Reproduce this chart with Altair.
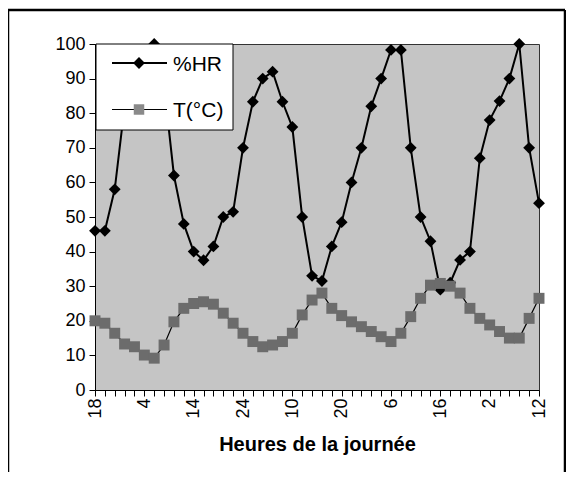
import altair as alt
import pandas as pd

# Hour of day for each 2-hour reading (category labels)
hours = [18, 20, 22, 24, 2, 4, 6, 8, 10, 12, 14, 16,
         18, 20, 22, 24, 2, 4, 6, 8, 10, 12, 14, 16,
         18, 20, 22, 24, 2, 4, 6, 8, 10, 12, 14, 16,
         18, 20, 22, 24, 2, 4, 6, 8, 10, 12]

# Relative humidity (%HR)
hr = [46, 46, 58, 82, 92, 98, 100, 88, 62, 48,
      40, 37.5, 41.5, 50, 51.5, 70, 83.3, 90, 92, 83.3,
      76, 50, 33, 31.5, 41.5, 48.5, 60, 70, 82, 90,
      98.3, 98.3, 70, 50, 43, 29, 31, 37.6, 40, 67,
      78, 83.5, 90, 100, 70, 54]

# Temperature T(°C)
temp = [20, 19.3, 16.4, 13.3, 12.5, 10.1, 9.2, 13, 19.7, 23.6,
        25, 25.5, 24.8, 22.2, 19.3, 16.4, 14, 12.5, 13, 14,
        16.4, 21.7, 26, 28, 23.6, 21.5, 19.7, 18.3, 16.9, 15.4,
        14, 16.4, 21.2, 26.5, 30.3, 30.8, 30, 28, 23.6, 20.7,
        18.8, 16.9, 15, 15, 20.7, 26.5]

series_names = ["%HR", "T(°C)"]
y_ticks = list(range(0, 101, 10))
x_title = "Heures de la journée"

FONT = "Liberation Sans"

df = pd.DataFrame({"i": list(range(len(hours))), "hour": hours, "hr": hr, "temp": temp})

hour_arr = "[" + ",".join(str(h) for h in hours) + "]"
label_expr = f"datum.value % 5 == 0 ? '' + {hour_arr}[datum.value] : ''"

x_axis = alt.Axis(
    values=list(range(len(hours))),
    labelExpr=label_expr,
    labelAngle=270,
    labelOverlap=False,
    labelFlush=False,
    labelBound=False,
    tickSize=6,
    labelPadding=2,
    title=x_title,
    titleFont=FONT,
    titleFontSize=20,
    titleFontWeight="bold",
    titlePadding=16,
    grid=False,
)
x_scale = alt.Scale(domain=[0, len(hours) - 1], nice=False, zero=False)
x_enc = alt.X("i:Q", scale=x_scale, axis=x_axis)

y_scale = alt.Scale(domain=[0, 100], nice=False, zero=True)
y_axis = alt.Axis(values=y_ticks, tickSize=6, labelPadding=4, title=None, grid=False,
                  labelOverlap=False, labelFlush=False, labelBound=False)

base = alt.Chart(df)

hr_line = base.mark_line(color="black", strokeWidth=2).encode(
    x=x_enc, y=alt.Y("hr:Q", scale=y_scale, axis=y_axis))
hr_pts = base.mark_point(shape="diamond", filled=True, size=140, color="black", opacity=1).encode(
    x=x_enc, y=alt.Y("hr:Q", scale=y_scale, axis=y_axis))
t_line = base.mark_line(color="black", strokeWidth=1.2).encode(
    x=x_enc, y=alt.Y("temp:Q", scale=y_scale, axis=y_axis))
t_pts = base.mark_point(shape="square", filled=True, size=120, color="#6c6c6c", opacity=1).encode(
    x=x_enc, y=alt.Y("temp:Q", scale=y_scale, axis=y_axis))

one = pd.DataFrame({"k": [0]})
leg = alt.Chart(one)
leg_box = leg.mark_rect(fill="white", stroke="black", strokeWidth=1).encode(
    x=alt.value(1), x2=alt.value(138), y=alt.value(0), y2=alt.value(86))
leg_l1 = leg.mark_rule(color="black", strokeWidth=2).encode(
    x=alt.value(17), x2=alt.value(72), y=alt.value(19))
leg_p1 = leg.mark_point(shape="diamond", filled=True, size=140, color="black", opacity=1).encode(
    x=alt.value(44), y=alt.value(19))
leg_t1 = leg.mark_text(align="left", baseline="alphabetic", font=FONT, fontSize=21, color="black").encode(
    x=alt.value(78), y=alt.value(27), text=alt.value(series_names[0]))
leg_l2 = leg.mark_rule(color="black", strokeWidth=1.2).encode(
    x=alt.value(17), x2=alt.value(72), y=alt.value(65.5))
leg_p2 = leg.mark_point(shape="square", filled=True, size=110, color="#8a8a8a", opacity=1).encode(
    x=alt.value(44), y=alt.value(65.5))
leg_t2 = leg.mark_text(align="left", baseline="alphabetic", font=FONT, fontSize=21, color="black").encode(
    x=alt.value(78), y=alt.value(73), text=alt.value(series_names[1]))

# outer frame of the figure
frame_l = leg.mark_rule(color="black", strokeWidth=2.5).encode(
    x=alt.value(-87), y=alt.value(-34), y2=alt.value(440))
frame_t = leg.mark_rule(color="black", strokeWidth=2.5).encode(
    x=alt.value(-87), x2=alt.value(470), y=alt.value(-34))
frame_r = leg.mark_rule(color="black", strokeWidth=2.5).encode(
    x=alt.value(470), y=alt.value(-34), y2=alt.value(440))

chart = alt.layer(
    hr_line, hr_pts, t_line, t_pts,
    leg_box, leg_l1, leg_p1, leg_t1, leg_l2, leg_p2, leg_t2,
    frame_l, frame_t, frame_r,
).properties(
    width=444, height=346,
    padding={"left": 87, "top": 36, "right": 27, "bottom": 82},
    autosize=alt.AutoSizeParams(type="none"),
    background="white",
).configure_view(
    fill="#c5c5c5", stroke="#333333", strokeWidth=1,
).configure_axis(
    labelFont=FONT, labelFontSize=18, labelColor="black",
    tickColor="black", domainColor="black", domainWidth=1, tickWidth=1,
    titleColor="black",
)

chart.save("out.html", embed_options={"renderer": "svg", "actions": False})
